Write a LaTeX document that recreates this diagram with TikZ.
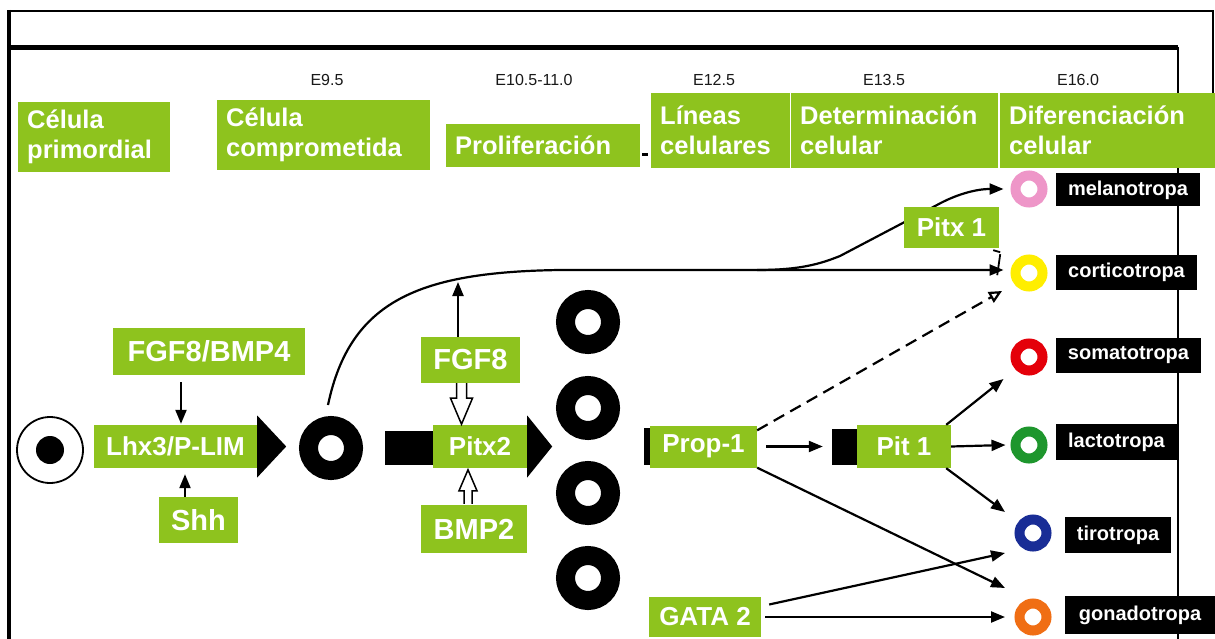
\documentclass[tikz,border=0pt]{standalone}
\usepackage{fontspec}
\setmainfont{Liberation Sans}
\usetikzlibrary{arrows.meta}
\definecolor{leaf}{RGB}{142,195,30}
\definecolor{cpink}{RGB}{238,150,200}
\definecolor{cyell}{RGB}{255,238,0}
\definecolor{cred}{RGB}{228,0,10}
\definecolor{cgreen}{RGB}{30,150,45}
\definecolor{cblue}{RGB}{25,45,150}
\definecolor{corange}{RGB}{240,110,20}
\newcommand{\fs}[2]{\fontsize{#1}{#2}\selectfont}
\pgfdeclarelayer{bg}
\pgfdeclarelayer{bgback}
\pgfsetlayers{bgback,bg,main}
\begin{document}
\begin{tikzpicture}[x=1pt,y=-1pt,
 gbox/.style={fill=leaf,text=white,inner sep=0pt,font=\bfseries\fs{26}{30}},
 big/.style={font=\bfseries\fs{29}{32}},
 hdr/.style={fill=leaf,text=white,font=\bfseries\fs{25.5}{30},align=left,anchor=north west,inner xsep=9pt,inner ysep=0pt},
 blab/.style={fill=black,text=white,font=\bfseries\fs{20}{22},inner sep=0pt,minimum height=33pt},
 date/.style={font=\fs{16}{18},text=black!90},
 ring/.style={circle,draw=black,line width=19pt,minimum size=45pt,inner sep=0pt},
 tring/.style={circle,line width=10pt,minimum size=27pt,inner sep=0pt},
 bar/.style={fill=black,inner sep=0pt},
 arr/.style={-{Triangle[length=14pt,width=11pt]},line width=2.2pt},
 darr/.style={-{Triangle[open,length=13pt,width=12pt]},line width=2.2pt,dash pattern=on 12pt off 7pt},
 hollow/.style={fill=white,draw=black,line width=1.5pt,line join=miter}
]
\useasboundingbox (0,0) rectangle (1215,639);
\begin{pgfonlayer}{bgback}
\fill[white] (0,0) rectangle (1215,639);
\end{pgfonlayer}

% frame
\draw[line width=2pt] (8,11) -- (1213,11) -- (1213,100);
\draw[line width=3.5pt] (9,10) -- (9,639);
\draw[line width=4.5pt] (9,47.5) -- (1178,47.5);
\draw[line width=1.5pt] (1178,47) -- (1178,639);

% dates
\node[date] (e1) at (327,80) {E9.5};
\node[date] (e2) at (534,80) {E10.5-11.0};
\node[date] (e3) at (714,80) {E12.5};
\node[date] (e4) at (884,80) {E13.5};
\node[date] (e5) at (1078,80) {E16.0};

% header boxes
\node[hdr,text width=134pt,minimum height=70pt] (prim) at (18,102) {Célula\\primordial};
\node[hdr,text width=195pt,minimum height=70pt] (comp) at (217,100) {Célula\\comprometida};
\node[hdr,text width=176pt,minimum height=43pt] (prol) at (446,124) {Proliferación};
\node[hdr,text width=121pt,minimum height=75pt] (lin) at (651,93) {Líneas\\celulares};
\node[hdr,text width=189pt,minimum height=75pt] (det) at (791,93) {Determinación\\celular};
\node[hdr,text width=197pt,minimum height=75pt] (dif) at (1000,93) {Diferenciación\\celular};
\draw[line width=2.5pt] ([xshift=2pt,yshift=-9pt]prol.east) -- ++(6,0);

% main row
\node[circle,draw,line width=1.8pt,minimum size=66pt,inner sep=0pt] (c0) at (50,450) {};
\fill (c0.center) circle[radius=14pt];
\node[gbox,minimum width=163pt,minimum height=43pt] (lhx) at (175.5,446.5) {Lhx3/P-LIM};
\fill (lhx.east) ++(0,-31) -- ++(29,31) -- ++(-29,31) -- cycle;
\node[gbox,big,minimum width=192pt,minimum height=47pt] (fgfbmp) at (209,351.5) {FGF8/BMP4};
\node[gbox,big,minimum width=79pt,minimum height=46pt] (shh) at (198.5,520) {Shh};
\node[ring] (r1) at (331,448) {};

\node[bar,minimum width=48pt,minimum height=34pt] (bar1) at (409,448) {};
\node[gbox,minimum width=94pt,minimum height=43pt] (pitx2) at (480,446.5) {Pitx2};
\fill (pitx2.east) ++(0,-31) -- ++(25,31) -- ++(-25,31) -- cycle;
\node[gbox,big,minimum width=99pt,minimum height=46pt] (fgf8) at (470.5,360) {FGF8};
\node[gbox,big,minimum width=106pt,minimum height=48pt] (bmp2) at (474,529) {BMP2};

\node[ring] (r2) at (588,322) {};
\node[ring] (r3) at (588,408) {};
\node[ring] (r4) at (588,493) {};
\node[ring] (r5) at (588,578) {};

\node[bar,minimum width=6pt,minimum height=37pt] (bar2) at (647,446.5) {};
\node[gbox,minimum width=107pt,minimum height=42pt] (prop) at (703.5,446.5) {Prop-1};
\node[bar,minimum width=25pt,minimum height=36pt] (bar3) at (844.5,446.5) {};
\node[gbox,minimum width=94pt,minimum height=43pt] (pit1) at (904,446.5) {Pit 1};
\node[gbox,minimum width=95pt,minimum height=41pt] (pitx1) at (951.5,227.5) {Pitx 1};
\node[gbox,minimum width=112pt,minimum height=40pt] (gata) at (705,617) {GATA 2};

% target cells
\node[tring,draw=cpink] (tmel) at (1029,189) {};
\node[tring,draw=cyell] (tcort) at (1029,273) {};
\node[tring,draw=cred] (tsoma) at (1029,357) {};
\node[tring,draw=cgreen] (tlact) at (1029,445) {};
\node[tring,draw=cblue] (ttiro) at (1033,533) {};
\node[tring,draw=corange] (tgona) at (1033,617) {};

\node[blab,minimum width=144pt] (lmel) at (1128,190) {melanotropa};
\node[blab,minimum width=141pt,minimum height=35pt] (lcort) at (1126.5,272.5) {corticotropa};
\node[blab,minimum width=145pt,minimum height=35pt] (lsoma) at (1128.5,355.5) {somatotropa};
\node[blab,minimum width=121pt,minimum height=36pt] (llact) at (1116.5,442) {lactotropa};
\node[blab,minimum width=106pt,minimum height=36pt] (ltiro) at (1118,535) {tirotropa};
\node[blab,minimum width=150pt,minimum height=38pt] (lgona) at (1140,615) {gonadotropa};

% connectors
\draw[arr] ([xshift=-28pt,yshift=-7pt]fgfbmp.south) -- ([xshift=5.5pt,yshift=1pt]lhx.north);
\draw[arr] ([xshift=-13.5pt]shh.north) -- ([xshift=9.5pt,yshift=-6pt]lhx.south);
\coordinate (fgtop) at (458,282);
\draw[arr] ([xshift=-12.5pt]fgf8.north) -- (fgtop);
\draw[hollow] ([xshift=-14pt]fgf8.south) -- ++(0,15) -- ++(-6,0) -- ++(11,26) -- ++(11,-26) -- ++(-6,0) -- ++(0,-15);
\draw[hollow] ([xshift=-10pt,yshift=1pt]bmp2.north) -- ++(0,-13) -- ++(-5,0) -- ++(9,-21) -- ++(9,21) -- ++(-5,0) -- ++(0,13);

\coordinate (cstart) at (328,405);
\coordinate (branch) at (757,270);
\draw[arr] (cstart) .. controls (350,300) and (420,272) .. (560,270) -- ([xshift=-7pt,yshift=3pt]tcort.west);
\begin{pgfonlayer}{bg}
\draw[arr] (branch) .. controls (800,270) and (820,264) .. (840,256) -- (937,205) .. controls (955,195) and (975,189) .. ([xshift=-7pt]tmel.west);
\end{pgfonlayer}
\draw[line width=1.8pt] ([xshift=1pt,yshift=-6pt]pitx1.south east) -- ++(-3,21);
\draw[line width=1.8pt] ([xshift=-6pt,yshift=-2pt]pitx1.south east) -- ++(7,2);

\draw[darr] ([yshift=-5pt]prop.north east) -- ([xshift=-8.5pt,yshift=-18pt]tcort.west);
\draw[arr] ([xshift=9pt]prop.east) -- ([xshift=-9pt]bar3.west);
\draw[arr] ([xshift=-5pt]pit1.north east) -- ([xshift=-7pt,yshift=-22pt]tsoma.west);
\draw[arr] (pit1.east) -- ([xshift=-5pt]tlact.west);
\draw[arr] ([xshift=-5pt]pit1.south east) -- ([xshift=-9.5pt,yshift=21pt]ttiro.west);
\draw[arr] (prop.south east) -- ([xshift=-9.5pt,yshift=29pt]tgona.west);
\draw[arr] ([xshift=8pt,yshift=12.5pt]gata.east) -- ([xshift=-9.5pt,yshift=-20pt]ttiro.west);
\draw[arr] ([xshift=4pt]gata.east) -- ([xshift=-9.5pt]tgona.west);
\end{tikzpicture}
\end{document}
